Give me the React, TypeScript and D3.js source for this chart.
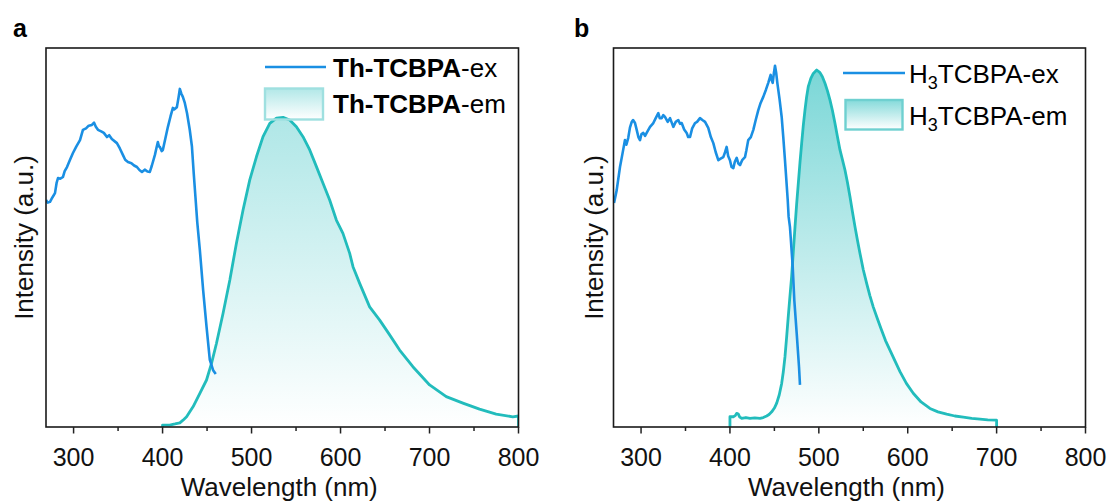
import React from "react";
import * as d3 from "d3";

const W = 1113;
const H = 504;

const xDomain: [number, number] = [269, 800];
const yDomain: [number, number] = [0, 100];
const xMajorTicks = [300, 400, 500, 600, 700, 800];
const xMinorTicks = [350, 450, 550, 650, 750];
const xTitle = "Wavelength (nm)";
const yTitle = "Intensity (a.u.)";

// Panel a: Th-TCBPA excitation (wavelength nm, intensity a.u.)
const thTcbpaEx: [number, number][] = [
  [269, 59.9], [271, 59.2], [273.5, 59.4], [276, 60.5], [279.1, 61.7], [281, 64.5], [282.5, 65.7],
  [285, 65.5], [288.1, 66.0], [290, 67.5], [292.6, 68.6], [296, 70.5], [299.3, 72.3], [303, 74.0],
  [307.2, 75.7], [310.5, 78.4], [314, 78.8], [317, 79.5], [320.6, 79.7], [323, 80.3], [325, 79.2],
  [327.4, 78.4], [331, 78.0], [334, 77.6], [337.5, 76.5], [340, 77.0], [343, 76.0], [348.7, 74.9],
  [352, 73.5], [355.4, 71.8], [358, 70.5], [361.1, 69.9], [365, 69.6], [368, 69.0], [371.2, 68.6],
  [374, 67.8], [376.8, 67.3], [380, 67.9], [383, 67.4], [385.7, 67.3], [388, 69.0], [391.4, 71.8],
  [393, 73.5], [394.7, 75.2], [396, 74.0], [397, 73.9], [399, 72.8], [400.3, 73.1], [403, 76.0],
  [406, 79.2], [409, 82.0], [411.6, 84.2], [413, 83.8], [416.1, 84.4], [418, 87.0], [419.4, 89.2],
  [421, 88.0], [422.8, 87.1], [425, 85.5], [427.5, 82.8], [430.5, 78.5], [433, 74.0], [435, 67.0],
  [437, 60.5], [439, 54.0], [441.9, 46.7], [445.6, 36.1], [449.4, 26.5], [453.1, 17.7],
  [456.8, 15.0], [459.8, 14.0],
];

// Panel a: Th-TCBPA emission
const thTcbpaEm: [number, number][] = [
  [400, 0.5], [408, 0.5], [414, 0.8], [419.4, 1.1], [423, 1.8], [427, 2.7], [434.4, 5.4],
  [441.9, 8.9], [449.4, 12.4], [455, 16.8], [460.6, 22.1], [468, 30.0], [475.6, 38.8], [483, 48.5],
  [490.5, 57.3], [498, 65.2], [505.5, 71.3], [512.9, 76.6], [520.5, 80.1], [528, 81.5],
  [535.4, 81.7], [542.9, 81.0], [550.4, 79.2], [557.8, 76.6], [565.4, 73.1], [572.9, 68.7],
  [580.3, 64.3], [587.8, 59.9], [595.3, 54.6], [602.7, 51.1], [610.3, 45.8], [614, 42.3],
  [621.5, 37.9], [632.7, 31.7], [644, 28.2], [655.2, 24.3], [666.4, 20.3], [681.3, 15.9],
  [700.1, 11.1], [718.8, 8.0], [737.5, 6.3], [756.2, 4.7], [774.9, 3.4], [793.6, 2.7], [800, 2.9],
];

// Panel b: H3TCBPA excitation
const h3TcbpaEx: [number, number][] = [
  [269.6, 59.1], [272.6, 62.5], [276.3, 68.6], [279, 72], [281.9, 75.7], [283.5, 74.5], [285.6, 76.3],
  [287.5, 79], [289.5, 80.5], [291, 81], [293.2, 80.2], [295.1, 78.4], [297, 76.5], [298.8, 75.7],
  [300.5, 77.3], [302.5, 77.6], [304.5, 76.8], [306.3, 77.6], [310.1, 79.2], [313.8, 80.2],
  [316.5, 81.5], [319.4, 82.8], [321, 81.5], [323.2, 81.5], [325, 82.3], [326.9, 81.8], [330, 80.5],
  [332.6, 81.5], [334.5, 80.3], [336.3, 79.2], [339, 80.5], [341.9, 81.0], [343.8, 80.0],
  [345.7, 80.2], [348.5, 78.5], [351.3, 77.6], [353, 76.5], [355.1, 76.5], [357.5, 78.8],
  [360.7, 80.2], [363, 80.5], [366.3, 81.5], [369, 81.0], [372, 80.5], [375.6, 78.9], [378.5, 76.5],
  [381.3, 74.9], [384, 72.5], [386.9, 70.4], [389.5, 70.8], [392.5, 71.2], [394.5, 72.5],
  [396.3, 73.9], [398, 71.5], [400, 70.4], [401.8, 68.6], [403.8, 68.3], [405.5, 70.0],
  [407.6, 71.0], [409.5, 69.5], [411.3, 69.1], [414, 70.5], [416.9, 71.2], [418.5, 73.0],
  [420.6, 75.7], [423.5, 76.5], [426.3, 78.4], [429, 81.0], [431.9, 83.6], [434.5, 85.5],
  [437.5, 87.1], [440.5, 89.0], [443.1, 90.8], [445.8, 92.9], [447, 91.5], [448.1, 90.8],
  [449.5, 93.5], [450.7, 95.3], [452, 93.5], [453.3, 90.8], [455.8, 86.5], [458.2, 81.8],
  [460, 76.5], [461.9, 70.4], [463.5, 65], [465, 59.9], [466, 55.5], [467.5, 52.8], [468.3, 50.2],
  [470.6, 42.3], [472.4, 33.5], [475.1, 24.7], [477.7, 15.9], [478.8, 11.1],
];

// Panel b: H3TCBPA emission
const h3TcbpaEm: [number, number][] = [
  [400, 2.7], [402, 2.7], [403.8, 2.7], [406, 3.0], [407.5, 3.6], [409.4, 3.4], [411, 2.6],
  [413.2, 2.3], [418, 2.5], [422.5, 2.3], [428, 2.4], [433.8, 2.3], [437.5, 2.5], [441.3, 2.9],
  [444, 3.3], [447, 4.0], [450, 5.0], [452.6, 6.3], [455.5, 8.5], [458.2, 11.5], [460, 14.5],
  [461.9, 18.5], [463.7, 23.5], [465.6, 29.1], [467.5, 34.5], [469.4, 39.7], [471.3, 46.3],
  [473.2, 52.8], [475, 58.7], [476.9, 64.3], [478.8, 69.8], [480.7, 74.9], [482.5, 79.5],
  [484.4, 83.6], [486.2, 87.0], [488.1, 89.8], [491, 92.0], [493.8, 93.3], [497.6, 94.2],
  [501.3, 93.5], [504, 92.4], [506.9, 90.7], [509.7, 88.7], [512.5, 86.3], [515.3, 83.5],
  [518.2, 80.1], [521, 76.5], [523.8, 73.1], [526.6, 70.5], [529.4, 67.8], [532.2, 64.5],
  [535, 60.8], [537.8, 56.8], [540.7, 52.8], [543.5, 49.2], [546.3, 45.8], [550, 41.5],
  [553.8, 37.9], [557.5, 34.6], [561.2, 31.7], [566, 28.5], [570, 25.9], [575, 22.8], [580, 20.3],
  [585.5, 17.5], [591.3, 14.6], [598.5, 11.5], [606.2, 8.9], [615, 6.6], [625, 4.9], [634, 4.0],
  [643.8, 3.4], [653, 2.9], [662.5, 2.6], [672, 2.3], [681.3, 2.1], [690, 1.9], [700, 1.8],
];

const EX_COLOR = "#1a8fe3";
const EM_COLOR = "#22bcbc";
const FONT = "'Liberation Sans', Arial, Helvetica, sans-serif";

type PanelProps = {
  id: string;
  letter: string;
  left: number;
  right: number;
  top: number;
  bottom: number;
  ex: [number, number][];
  em: [number, number][];
  fillOpacity: number;
  legendBorder: string;
  legendFillOpacity: number;
  legendLineX: [number, number];
  legendLineY: number;
  legendRect: [number, number, number, number];
  legendTextX: number;
  legendBase1: number;
  legendBase2: number;
  letterX: number;
  yTitleX: number;
  subscript: boolean;
};

function Panel(p: PanelProps) {
  const x = d3.scaleLinear().domain(xDomain).range([p.left, p.right]);
  const y = d3.scaleLinear().domain(yDomain).range([p.bottom, p.top]);
  const line = d3
    .line<[number, number]>()
    .x((d) => x(d[0]))
    .y((d) => y(d[1]));
  const emFirst = p.em[0];
  const emLast = p.em[p.em.length - 1];
  const emOutline: [number, number][] = [[emFirst[0], 0], ...p.em, [emLast[0], 0]];
  const area = d3
    .area<[number, number]>()
    .x((d) => x(d[0]))
    .y0(y(0))
    .y1((d) => y(d[1]));
  const cx = (p.left + p.right) / 2;
  const cy = (p.top + p.bottom) / 2;

  const labelText = (suffix: string) =>
    p.subscript ? (
      <>
        <tspan>H</tspan>
        <tspan fontSize={18} dy={6}>3</tspan>
        <tspan dy={-6}>{"TCBPA" + suffix}</tspan>
      </>
    ) : (
      <>
        <tspan fontWeight="bold">Th-TCBPA</tspan>
        <tspan>{suffix}</tspan>
      </>
    );

  return (
    <g>
      <defs>
        <linearGradient id={`grad-${p.id}`} x1="0" y1="0" x2="0" y2="1">
          <stop offset="0" stopColor={EM_COLOR} stopOpacity={p.fillOpacity} />
          <stop offset="1" stopColor={EM_COLOR} stopOpacity={0} />
        </linearGradient>
        <linearGradient id={`lgrad-${p.id}`} x1="0" y1="0" x2="0" y2="1">
          <stop offset="0" stopColor={EM_COLOR} stopOpacity={p.legendFillOpacity} />
          <stop offset="1" stopColor={EM_COLOR} stopOpacity={0} />
        </linearGradient>
        <clipPath id={`clip-${p.id}`}>
          <rect x={p.left} y={p.top} width={p.right - p.left} height={p.bottom - p.top} />
        </clipPath>
      </defs>

      <text x={p.letterX} y={37} fontFamily={FONT} fontWeight="bold" fontSize={25} fill="#000">
        {p.letter}
      </text>

      <g clipPath={`url(#clip-${p.id})`}>
        <path d={area(p.em) || ""} fill={`url(#grad-${p.id})`} />
        <path
          d={line(emOutline) || ""}
          fill="none"
          stroke={EM_COLOR}
          strokeWidth={2.8}
          strokeLinejoin="round"
        />
        <path
          d={line(p.ex) || ""}
          fill="none"
          stroke={EX_COLOR}
          strokeWidth={2.6}
          strokeLinejoin="round"
        />
      </g>

      <rect
        x={p.left}
        y={p.top}
        width={p.right - p.left}
        height={p.bottom - p.top}
        fill="none"
        stroke="#1a1a1a"
        strokeWidth={1.6}
      />

      {xMajorTicks.map((t) => (
        <line key={`M${t}`} x1={x(t)} x2={x(t)} y1={p.bottom} y2={p.bottom + 6.5} stroke="#222" strokeWidth={1.5} />
      ))}
      {xMinorTicks.map((t) => (
        <line key={`m${t}`} x1={x(t)} x2={x(t)} y1={p.bottom} y2={p.bottom + 4} stroke="#222" strokeWidth={1.5} />
      ))}
      {xMajorTicks.map((t) => (
        <text
          key={`L${t}`}
          x={x(t)}
          y={466}
          textAnchor="middle"
          fontFamily={FONT}
          fontSize={25}
          fill="#111"
        >
          {t}
        </text>
      ))}

      <text x={cx - 3} y={496} textAnchor="middle" fontFamily={FONT} fontSize={26} fill="#111">
        {xTitle}
      </text>
      <text
        transform={`translate(${p.yTitleX},${cy}) rotate(-90)`}
        textAnchor="middle"
        fontFamily={FONT}
        fontSize={26}
        fill="#111"
      >
        {yTitle}
      </text>

      {/* legend */}
      <line
        x1={p.legendLineX[0]}
        x2={p.legendLineX[1]}
        y1={p.legendLineY}
        y2={p.legendLineY}
        stroke={EX_COLOR}
        strokeWidth={2.6}
      />
      <text x={p.legendTextX} y={p.legendBase1} fontFamily={FONT} fontSize={26} fill="#000">
        {labelText("-ex")}
      </text>
      <rect
        x={p.legendRect[0]}
        y={p.legendRect[1]}
        width={p.legendRect[2]}
        height={p.legendRect[3]}
        fill={`url(#lgrad-${p.id})`}
        stroke={p.legendBorder}
        strokeWidth={2.4}
      />
      <text x={p.legendTextX} y={p.legendBase2} fontFamily={FONT} fontSize={26} fill="#000">
        {labelText("-em")}
      </text>
    </g>
  );
}

export default function App() {
  return (
    <svg
      width={W}
      height={H}
      viewBox={`0 0 ${W} ${H}`}
      style={{ position: "absolute", left: 0, top: 0, background: "#fff" }}
    >
      <rect x={0} y={0} width={W} height={H} fill="#fff" />
      <Panel
        id="a"
        letter="a"
        left={46}
        right={518.5}
        top={48}
        bottom={427}
        ex={thTcbpaEx}
        em={thTcbpaEm}
        fillOpacity={0.36}
        legendBorder="#9fe0e0"
        legendFillOpacity={0.35}
        legendLineX={[265, 326]}
        legendLineY={67}
        legendRect={[265, 88.5, 58, 31]}
        legendTextX={333}
        legendBase1={77}
        legendBase2={112.5}
        letterX={13}
        yTitleX={33}
        subscript={false}
      />
      <Panel
        id="b"
        letter="b"
        left={613.5}
        right={1085.5}
        top={48}
        bottom={427}
        ex={h3TcbpaEx}
        em={h3TcbpaEm}
        fillOpacity={0.6}
        legendBorder="#6fd0d0"
        legendFillOpacity={0.55}
        legendLineX={[843, 905]}
        legendLineY={73}
        legendRect={[845.5, 100, 57, 29.5]}
        legendTextX={909}
        legendBase1={82.5}
        legendBase2={124.5}
        letterX={574}
        yTitleX={603}
        subscript={true}
      />
    </svg>
  );
}
